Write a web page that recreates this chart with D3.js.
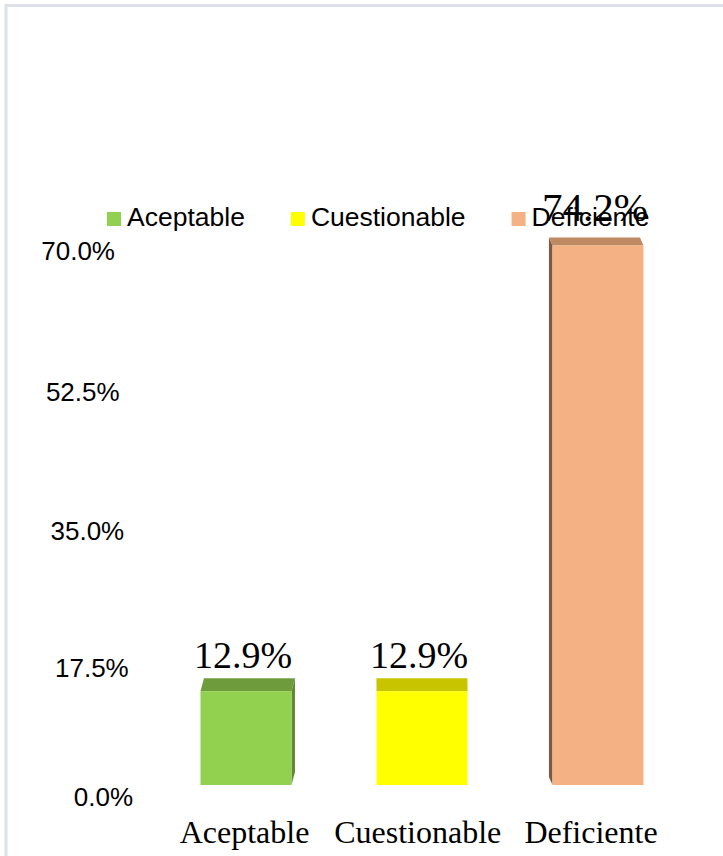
<!DOCTYPE html>
<html>
<head>
<meta charset="utf-8">
<script src="https://cdn.jsdelivr.net/npm/d3@7"></script>
<style>
  html, body { margin: 0; padding: 0; background: #fff; }
  svg { display: block; }
</style>
</head>
<body>
<svg id="chart"></svg>
<script>
const categories = ["Aceptable", "Cuestionable", "Deficiente"],
      values = [12.9, 12.9, 74.2],
      valueLabels = ["12.9%", "12.9%", "74.2%"],
      tickValues = [0, 17.5, 35, 52.5, 70],
      tickLabels = ["0.0%", "17.5%", "35.0%", "52.5%", "70.0%"],
      frontColors = ["#92d050", "#ffff00", "#f4b183"],
      topColors = ["#6e9c3c", "#c8c400", "#bf8a62"],
      sideColors = ["#5f8a33", "#a8a600", "#7d5a3e"];

const width = 723, height = 856;

const svg = d3.select("#chart")
    .attr("width", width)
    .attr("height", height);

// frame (right and bottom edges fall outside the picture)
svg.append("rect")
    .attr("x", 6).attr("y", 5.5)
    .attr("width", 760).attr("height", 900)
    .attr("fill", "none")
    .attr("stroke", "#dce1e8")
    .attr("stroke-width", 3);

// axis labels sit on the back wall, slightly foreshortened
const yAxis = d3.scalePow().exponent(1.04)
        .domain([0, 70])
        .range([797, 251]),
      labelRight = d3.scaleLinear()
        .domain([251, 797])
        .range([115, 133]);

svg.append("g").selectAll("text")
    .data(tickValues)
    .enter().append("text")
    .attr("x", d => labelRight(yAxis(d)))
    .attr("y", d => yAxis(d))
    .attr("text-anchor", "end")
    .attr("dominant-baseline", "central")
    .attr("font-family", "'Liberation Sans', Arial, sans-serif")
    .attr("font-size", 26)
    .attr("fill", "#000")
    .text((d, i) => tickLabels[i]);

// bars on the front plane
const xScale = d3.scalePoint()
        .domain(categories)
        .range([246, 598]),
      xLabel = d3.scalePoint()
        .domain(categories)
        .range([244.5, 591]),
      yBar = d3.scaleLinear()
        .domain([0, 70])
        .range([785, 276]),
      depth = d3.scaleLinear()
        .domain([248, 690])
        .range([8, 13]),
      labelSize = d3.scaleLinear()
        .domain([13, 8])
        .range([38, 41]),
      barWidth = 91,
      vanishX = 420;

const bars = categories.map((c, i) => {
    const cx = xScale(c),
          x0 = cx - barWidth / 2,
          x1 = cx + barWidth / 2,
          yt = yBar(values[i]),
          yb = yBar(0),
          dp = depth(yt),
          dx = (vanishX - cx) * 0.02;
    return {c, i, cx, x0, x1, yt, yb, dp, dx};
});

const barG = svg.append("g").selectAll("g")
    .data(bars)
    .enter().append("g");

// side face
barG.filter(d => Math.abs(d.dx) > 1)
    .append("polygon")
    .attr("points", d => {
        const xe = d.dx > 0 ? d.x1 : d.x0;
        return [[xe, d.yt], [xe + d.dx, d.yt - d.dp],
                [xe + d.dx, d.yb - d.dp], [xe, d.yb]].join(" ");
    })
    .attr("fill", d => sideColors[d.i]);

// top face
barG.append("polygon")
    .attr("points", d => [[d.x0, d.yt], [d.x1, d.yt],
        [d.x1 + d.dx, d.yt - d.dp], [d.x0 + d.dx, d.yt - d.dp]].join(" "))
    .attr("fill", d => topColors[d.i]);

// front face
barG.append("rect")
    .attr("x", d => d.x0)
    .attr("y", d => d.yt)
    .attr("width", barWidth)
    .attr("height", d => d.yb - d.yt)
    .attr("fill", d => frontColors[d.i]);

// value labels
barG.append("text")
    .attr("x", d => d.cx - 3)
    .attr("y", d => d.yt - d.dp - (10 + (13 - d.dp) * 1.2))
    .attr("text-anchor", "middle")
    .attr("font-family", "'Liberation Serif', 'Times New Roman', serif")
    .attr("font-size", d => labelSize(d.dp))
    .attr("fill", "#000")
    .text(d => valueLabels[d.i]);

// category labels
svg.append("g").selectAll("text")
    .data(categories)
    .enter().append("text")
    .attr("x", d => xLabel(d))
    .attr("y", 843)
    .attr("text-anchor", "middle")
    .attr("font-family", "'Liberation Serif', 'Times New Roman', serif")
    .attr("font-size", 32)
    .attr("fill", "#000")
    .text(d => d);

// legend
const legend = svg.append("g");
let lx = 107;
categories.forEach((c, i) => {
    const item = legend.append("g").attr("transform", `translate(${lx},0)`);
    item.append("rect")
        .attr("x", 0).attr("y", 212)
        .attr("width", 14).attr("height", 14)
        .attr("fill", frontColors[i]);
    const t = item.append("text")
        .attr("x", 20)
        .attr("y", 226)
        .attr("font-family", "'Liberation Sans', Arial, sans-serif")
        .attr("font-size", 26.5)
        .attr("fill", "#000")
        .text(c);
    lx += 20 + t.node().getComputedTextLength() + 46;
});
</script>
</body>
</html>
